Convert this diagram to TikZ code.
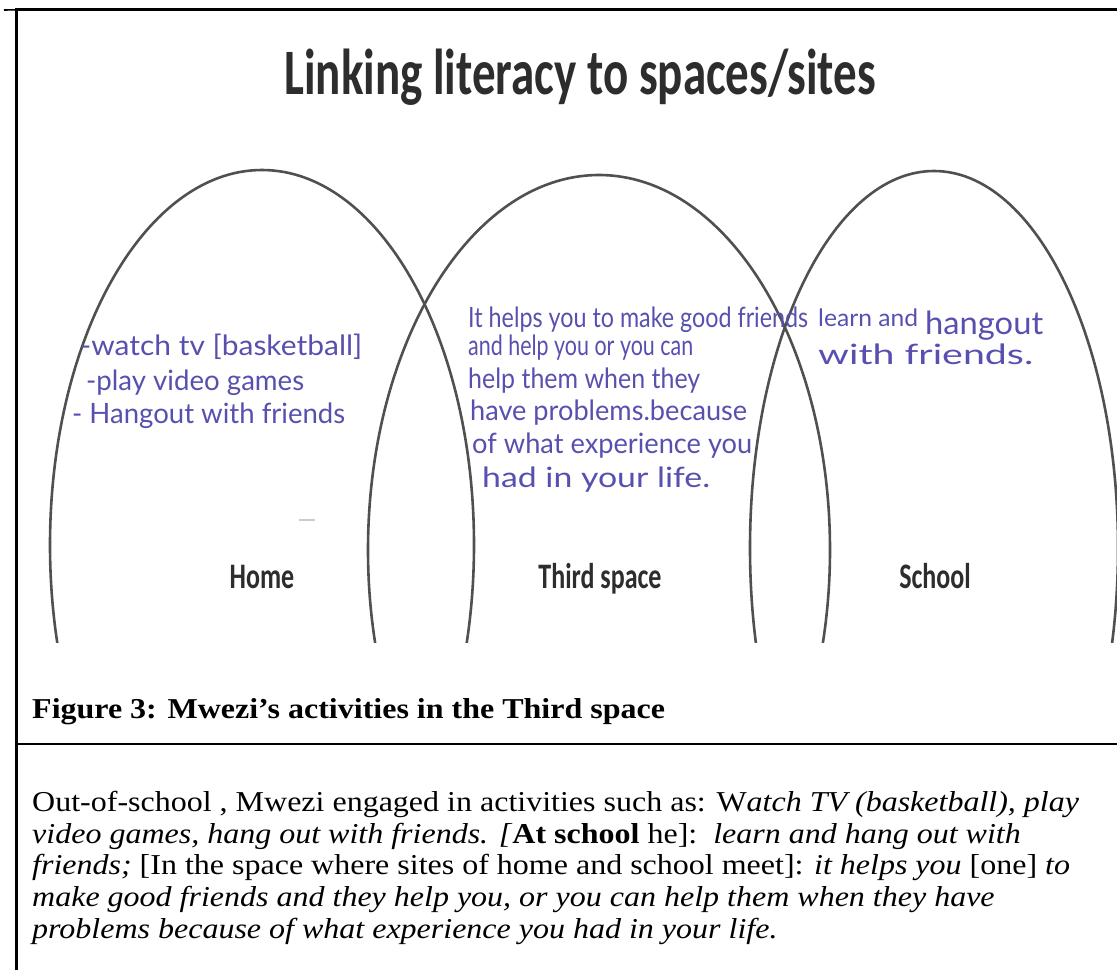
\documentclass[tikz,border=0pt]{standalone}
\usepackage{fontspec}
\usepackage{graphicx}
\setmainfont{Liberation Serif}
\newfontfamily\calib{Carlito}
\newfontfamily\hand{Lato}
\definecolor{ink}{RGB}{88,80,175}
\definecolor{arcgray}{RGB}{80,80,80}
\definecolor{dark}{RGB}{45,45,45}
\newcommand\hw[2]{\resizebox{#1pt}{\height}{#2}}
\newcommand\sqz[1]{\scalebox{1}[0.9]{#1}}
\newcommand\tall[1]{\scalebox{1}[1.38]{#1}}
\begin{document}
\begin{tikzpicture}[x=1pt,y=-1pt,
  frame/.style={line width=3pt,black},
  vennarc/.style={draw=arcgray,line width=2.6pt},
  hwtext/.style={text=ink,font=\hand\fontsize{28}{28}\selectfont,anchor=base west,inner sep=0pt},
  sitelabel/.style={text=dark,font=\calib\bfseries\fontsize{26}{26}\selectfont,anchor=base,inner sep=0pt},
  paraline/.style={font=\fontsize{32}{32}\selectfont,anchor=base west,inner sep=0pt}]
\useasboundingbox (0,0) rectangle (1117,970);
% frame
\coordinate (tl) at (16.5,9.8);
\coordinate (tr) at (1117,9.8);
\coordinate (bl) at (16.5,970);
\coordinate (tick) at (4,10);
\coordinate (cl) at (16.5,744);
\coordinate (cr) at (1117,744);
\draw[frame] (tr) -- (tl) -- (bl);
\draw[line width=1.6pt] (tick) -- (tl);
\draw[line width=2.7pt] (cl) -- (cr);
% title
\node[text=dark,font=\calib\bfseries\fontsize{47}{47}\selectfont,anchor=base,inner sep=0pt] (title) at (580,94) {\tall{Linking literacy to spaces/sites}};
% Venn arcs
\begin{scope}
\clip (0,0) rectangle (1117,642);
\draw[vennarc] (262,545) ellipse [x radius=212, y radius=375];
\draw[vennarc] (599,550) ellipse [x radius=231, y radius=375];
\draw[vennarc] (934,548) ellipse [x radius=184, y radius=377];
\end{scope}
\coordinate (m1) at (299,520);
\coordinate (m2) at (315,520);
\draw[gray!40,line width=1.2pt] (m1) -- (m2);
% site labels
\node[sitelabel] (home) at (262,588) {\tall{Home}};
\node[sitelabel] (third) at (600,588) {\tall{Third space}};
\node[sitelabel] (school) at (935,588) {\tall{School}};
% handwriting, home
\node[hwtext] (hl1) at (80,355) {\hw{282}{-watch tv [basketball]}};
\node[hwtext] (hl2) at (86,390) {\hw{218}{-play video games}};
\node[hwtext] (hl3) at (72,423) {\hw{273}{- Hangout with friends}};
% handwriting, third space
\node[hwtext] (hm1) at (468,327) {\hw{340}{It helps you to make good friends}};
\node[hwtext] (hm2) at (468,355) {\hw{225}{and help you or you can}};
\node[hwtext] (hm3) at (468,388) {\hw{232}{help them when they}};
\node[hwtext] (hm4) at (470,420) {\hw{277}{have problems.because}};
\node[hwtext] (hm5) at (472,453) {\hw{280}{of what experience you}};
\node[hwtext] (hm6) at (482,487) {\hw{228}{had in your life.}};
% handwriting, school
\node[hwtext,font=\hand\fontsize{24}{24}\selectfont] (hr1) at (818,326) {\hw{100}{learn and}};
\node[hwtext,font=\hand\fontsize{32}{32}\selectfont] (hr2) at (925,334) {\hw{118}{hangout}};
\node[hwtext] (hr3) at (818,364) {\hw{215}{with friends.}};
% caption
\node[paraline] (cap) at (32,718) {\sqz{\textbf{Figure 3: Mwezi’s activities in the Third space}}};
% paragraph
\node[paraline] (p1) at (32,811) {\sqz{Out-of-school , Mwezi engaged in activities such as: W\textit{atch TV (basketball), play}}};
\node[paraline] (p2) at (32,843) {\sqz{\textit{video games, hang out with friends. [}\textbf{At school} he]:\ \ \textit{learn and hang out with}}};
\node[paraline] (p3) at (32,874) {\sqz{\textit{friends;} [In the space where sites of home and school meet]: \textit{it helps you} [one] \textit{to}}};
\node[paraline] (p4) at (32,906) {\sqz{\textit{make good friends and they help you, or you can help them when they have}}};
\node[paraline] (p5) at (32,938) {\sqz{\textit{problems because of what experience you had in your life.}}};
\end{tikzpicture}
\end{document}
